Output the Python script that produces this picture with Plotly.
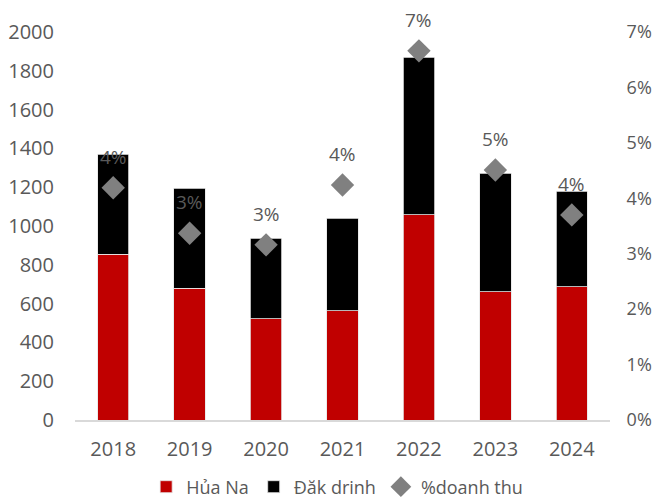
import plotly.graph_objects as go

years = ["2018", "2019", "2020", "2021", "2022", "2023", "2024"]
hua_na = [855, 680, 521, 562, 1057, 660, 686]
dak_drinh = [515, 515, 417, 479, 814, 613, 494]
pct_revenue = [0.0419, 0.0337, 0.0316, 0.0424, 0.0666, 0.0451, 0.0370]

grey_text = "#595959"
font_family = "Open Sans, Lato, sans-serif"
fsize = 20
clear = "rgba(0,0,0,0)"

pos = list(range(len(years)))

fig = go.Figure()

fig.add_trace(go.Bar(
    x=pos, y=hua_na, name="Hủa Na",
    marker=dict(color="#c00000", line=dict(color="#e6e6e6", width=0.8)),
    width=0.41,
))
fig.add_trace(go.Bar(
    x=pos, y=dak_drinh, name="Đăk drinh",
    marker=dict(color="#000000", line=dict(color="#e6e6e6", width=0.8)),
    width=0.41,
))
fig.add_trace(go.Scatter(
    x=pos, y=pct_revenue, name="%doanh thu", yaxis="y2",
    mode="markers",
    marker=dict(symbol="diamond", size=18, color="#808080"),
))

# percentage labels above each diamond
for i, v in zip(pos, pct_revenue):
    fig.add_annotation(
        x=i, y=v, xref="x", yref="y2", text=f"{v:.0%}", showarrow=False,
        yshift=31, font=dict(size=fsize - 1, color=grey_text, family=font_family),
    )

fig.update_layout(
    barmode="stack",
    width=655, height=501,
    margin=dict(l=75, r=45, t=32, b=81, autoexpand=False),
    paper_bgcolor="white", plot_bgcolor="white",
    font=dict(family=font_family, size=fsize, color=grey_text),
    showlegend=True,
    legend=dict(
        orientation="h", x=0.49, xanchor="center",
        yref="container", y=0.028, yanchor="middle",
        font=dict(size=18, color=grey_text), traceorder="normal",
        itemwidth=30, tracegroupgap=0,
    ),
    xaxis=dict(
        range=[-0.5, len(years) - 0.5],
        tickmode="array", tickvals=pos, ticktext=years,
        showline=True, linecolor="#d9d9d9", linewidth=1.5,
        showgrid=False, zeroline=False,
        ticks="outside", ticklen=10, tickcolor=clear,
        tickfont=dict(size=fsize, color=grey_text),
    ),
    yaxis=dict(
        range=[0, 2000], dtick=200, showgrid=False, zeroline=False,
        showline=False, ticks="outside", ticklen=16, tickcolor=clear,
        tickfont=dict(size=fsize, color=grey_text),
    ),
    yaxis2=dict(
        overlaying="y", side="right", range=[0, 0.07], dtick=0.01,
        tickformat=".0%", showgrid=False, zeroline=False, showline=False,
        ticks="outside", ticklen=12, tickcolor=clear,
        tickfont=dict(size=18, color=grey_text),
    ),
)

fig.write_html("out.html")
